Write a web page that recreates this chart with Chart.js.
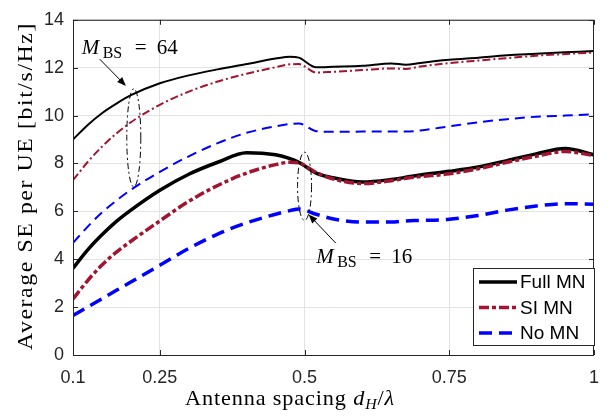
<!DOCTYPE html>
<html>
<head>
<meta charset="utf-8">
<script src="https://cdn.jsdelivr.net/npm/chart.js@4.4.1/dist/chart.umd.min.js"></script>
<style>
  body { margin: 0; background: #fff; }
  #wrap { width: 611px; height: 418px; position: relative; }
</style>
</head>
<body>
<div id="wrap"><canvas id="chart"></canvas></div>
<script>
// antenna spacing d_H / lambda
const xValues = [0.1, 0.125, 0.15, 0.175, 0.2, 0.25, 0.3, 0.35, 0.4, 0.45, 0.475, 0.49, 0.52, 0.55, 0.6, 0.65, 0.675, 0.7, 0.75, 0.8, 0.85, 0.9, 0.95, 1.0];

// M_BS = 64
const fullMN64 = [9.0, 9.6, 10.1, 10.5, 10.85, 11.35, 11.68, 11.93, 12.15, 12.38, 12.46, 12.42, 12.02, 12.04, 12.08, 12.18, 12.12, 12.2, 12.33, 12.42, 12.52, 12.58, 12.64, 12.7];
const siMN64   = [7.3, 8.05, 8.7, 9.25, 9.72, 10.45, 11.0, 11.42, 11.75, 12.02, 12.14, 12.15, 11.8, 11.83, 11.9, 11.97, 11.95, 12.05, 12.19, 12.3, 12.4, 12.5, 12.57, 12.63];
const noMN64   = [4.68, 5.35, 5.95, 6.45, 6.9, 7.65, 8.3, 8.85, 9.28, 9.55, 9.65, 9.67, 9.35, 9.32, 9.33, 9.33, 9.33, 9.38, 9.55, 9.72, 9.85, 9.95, 10.0, 10.05];

// M_BS = 16
const fullMN16 = [3.62, 4.38, 5.02, 5.58, 6.05, 6.88, 7.55, 8.05, 8.45, 8.36, 8.2, 8.05, 7.6, 7.4, 7.23, 7.33, 7.42, 7.52, 7.67, 7.85, 8.12, 8.4, 8.62, 8.36];
const siMN16   = [2.34, 3.1, 3.76, 4.3, 4.75, 5.6, 6.42, 7.08, 7.6, 7.95, 8.05, 8.02, 7.62, 7.35, 7.16, 7.28, 7.38, 7.45, 7.57, 7.78, 8.05, 8.3, 8.5, 8.33];
const noMN16   = [1.65, 2.0, 2.35, 2.7, 3.05, 3.75, 4.45, 5.05, 5.52, 5.88, 6.03, 6.1, 5.88, 5.68, 5.55, 5.55, 5.6, 5.62, 5.67, 5.83, 6.05, 6.22, 6.32, 6.3];

const xTicks = [0.1, 0.25, 0.5, 0.75, 1];
const yTicks = [0, 2, 4, 6, 8, 10, 12, 14];
const legendLabels = ["Full MN", "SI MN", "No MN"];

const BLACK = "#000000";
const RED = "#a2142f";
const BLUE = "#0000ff";
const AXIS = "#262626";
const SERIF = "'Liberation Serif', 'Times New Roman', serif";

const pts = (arr) => xValues.map((x, i) => ({ x: x, y: arr[i] }));

const line = (data, color, width, dash) => ({
    data: pts(data),
    borderColor: color,
    borderWidth: width,
    borderDash: dash,
    pointRadius: 0,
    fill: false,
    cubicInterpolationMode: "monotone",
    borderCapStyle: "butt"
});

// draw text pieces left to right, slightly stretched, letter spacing fills the rest of the target width
const drawRuns = (ctx, runs, x, y, target, sx) => {
    let w = 0, n = 0;
    ctx.letterSpacing = "0px";
    runs.forEach(r => {
        ctx.font = r.font;
        r.w = ctx.measureText(r.t).width;
        w += r.w;
        n += r.t.length;
    });
    const ls = (target / sx - w) / n;
    ctx.save();
    ctx.translate(x, y);
    ctx.scale(sx, 1);
    let cx = 0;
    runs.forEach(r => {
        ctx.font = r.font;
        ctx.letterSpacing = ls + "px";
        ctx.fillText(r.t, cx, r.dy || 0);
        cx += r.w + ls * r.t.length;
    });
    ctx.restore();
    ctx.letterSpacing = "0px";
};

// M_BS = n, pieces placed at the offsets seen in the picture
const drawMbs = (ctx, n, x, y) => {
    ctx.font = "italic 21px " + SERIF;
    ctx.fillText("M", x, y);
    ctx.font = "16px " + SERIF;
    ctx.fillText("BS", x + 21, y + 4);
    ctx.font = "21px " + SERIF;
    ctx.fillText("=", x + 53, y);
    ctx.fillText(n, x + 75, y);
};

const arrow = (ctx, x1, y1, x2, y2) => {
    const a = Math.atan2(y2 - y1, x2 - x1);
    ctx.beginPath();
    ctx.moveTo(x1, y1);
    ctx.lineTo(x2 - 6 * Math.cos(a), y2 - 6 * Math.sin(a));
    ctx.stroke();
    ctx.beginPath();
    ctx.moveTo(x2, y2);
    ctx.lineTo(x2 - 9 * Math.cos(a) + 3.5 * Math.sin(a), y2 - 9 * Math.sin(a) - 3.5 * Math.cos(a));
    ctx.lineTo(x2 - 9 * Math.cos(a) - 3.5 * Math.sin(a), y2 - 9 * Math.sin(a) + 3.5 * Math.cos(a));
    ctx.closePath();
    ctx.fill();
};

const decor = {
    id: "decor",
    afterDatasetsDraw(chart) {
        const ctx = chart.ctx;
        const xs = chart.scales.x, ys = chart.scales.y;
        const a = chart.chartArea;
        ctx.save();

        // ellipses around the curve groups
        ctx.strokeStyle = BLACK;
        ctx.lineWidth = 1;
        ctx.setLineDash([6, 3, 2, 3]);
        [[0.205, 11.12, 7.02], [0.5, 8.47, 5.62]].forEach(e => {
            const cx = xs.getPixelForValue(e[0]);
            const yt = ys.getPixelForValue(e[1]);
            const yb = ys.getPixelForValue(e[2]);
            ctx.beginPath();
            ctx.ellipse(cx, (yt + yb) / 2, 7, (yb - yt) / 2, 0, 0, Math.PI * 2);
            ctx.stroke();
        });
        ctx.setLineDash([]);

        // arrows
        ctx.fillStyle = BLACK;
        arrow(ctx, xs.getPixelForValue(0.146), ys.getPixelForValue(12.36), xs.getPixelForValue(0.1915), ys.getPixelForValue(11.24));
        arrow(ctx, xs.getPixelForValue(0.554), ys.getPixelForValue(4.67), xs.getPixelForValue(0.507), ys.getPixelForValue(5.87));

        // labels
        ctx.textAlign = "left";
        ctx.textBaseline = "alphabetic";
        drawMbs(ctx, "64", xs.getPixelForValue(0.115), ys.getPixelForValue(12.56));
        drawMbs(ctx, "16", xs.getPixelForValue(0.52), ys.getPixelForValue(3.84));

        // box and inward ticks
        ctx.strokeStyle = AXIS;
        ctx.lineWidth = 1;
        ctx.strokeRect(a.left + 0.5, a.top + 0.5, a.right - a.left - 1, a.bottom - a.top);
        ctx.beginPath();
        xTicks.forEach(v => {
            const px = Math.round(xs.getPixelForValue(v)) + 0.5;
            ctx.moveTo(px, a.bottom); ctx.lineTo(px, a.bottom - 5);
            ctx.moveTo(px, a.top); ctx.lineTo(px, a.top + 5);
        });
        yTicks.forEach(v => {
            const py = Math.round(ys.getPixelForValue(v)) + 0.5;
            ctx.moveTo(a.left, py); ctx.lineTo(a.left + 5, py);
            ctx.moveTo(a.right, py); ctx.lineTo(a.right - 5, py);
        });
        ctx.stroke();

        // legend
        const lx = 473, ly = 268, lw = 121, lh = 77;
        ctx.fillStyle = "#ffffff";
        ctx.fillRect(lx, ly, lw, lh);
        ctx.strokeStyle = AXIS;
        ctx.strokeRect(lx + 0.5, ly + 0.5, lw, lh);
        const styles = [[BLACK, []], [RED, [10, 3, 4, 3]], [BLUE, [13, 7]]];
        legendLabels.forEach((lab, i) => {
            const yy = 282 + i * 25.5;
            ctx.strokeStyle = styles[i][0];
            ctx.lineWidth = 3.5;
            ctx.setLineDash(styles[i][1]);
            ctx.beginPath();
            ctx.moveTo(479, yy); ctx.lineTo(517, yy);
            ctx.stroke();
            ctx.setLineDash([]);
            ctx.fillStyle = BLACK;
            ctx.font = "19px 'Liberation Sans'";
            ctx.textBaseline = "middle";
            ctx.fillText(lab, 520, yy + 1);
        });

        // axis titles
        ctx.fillStyle = BLACK;
        ctx.textBaseline = "alphabetic";
        drawRuns(ctx, [
            { t: "Antenna spacing ", font: "21px " + SERIF },
            { t: "d", font: "italic 21px " + SERIF },
            { t: "H", font: "italic 15px " + SERIF, dy: 4 },
            { t: "/", font: "21px " + SERIF },
            { t: "\u03bb", font: "italic 21px " + SERIF }
        ], 185, 405, 210, 1.06);

        ctx.save();
        ctx.translate(32, 350);
        ctx.rotate(-Math.PI / 2);
        drawRuns(ctx, [{ t: "Average SE per UE [bit/s/Hz]", font: "22px " + SERIF }], 0, 0, 328, 1.08);
        ctx.restore();

        ctx.restore();
    }
};

new Chart(document.getElementById("chart"), {
    type: "line",
    data: {
        datasets: [
            line(noMN64, BLUE, 2, [10, 6]),
            line(siMN64, RED, 2, [8, 3, 2, 3]),
            line(fullMN64, BLACK, 2, []),
            line(noMN16, BLUE, 3.5, [13, 7]),
            line(siMN16, RED, 3.5, [10, 3, 4, 3]),
            line(fullMN16, BLACK, 3.5, [])
        ]
    },
    options: {
        responsive: true,
        maintainAspectRatio: false,
        animation: false,
        events: [],
        layout: { padding: { top: 16, right: 7, left: 0, bottom: 0 } },
        plugins: { legend: { display: false }, tooltip: { enabled: false } },
        scales: {
            x: {
                type: "linear",
                min: 0.1,
                max: 1,
                afterBuildTicks: (s) => { s.ticks = xTicks.map(v => ({ value: v })); },
                afterFit: (s) => { s.height = 63; },
                grid: { color: "#e3e3e3", drawTicks: false },
                border: { display: false },
                ticks: {
                    padding: 12,
                    color: AXIS,
                    font: { family: "'Liberation Sans'", size: 18 },
                    maxRotation: 0,
                    callback: (v) => String(v)
                }
            },
            y: {
                min: 0,
                max: 14,
                afterBuildTicks: (s) => { s.ticks = yTicks.map(v => ({ value: v })); },
                afterFit: (s) => { s.width = 73; },
                grid: { color: "#e3e3e3", drawTicks: false },
                border: { display: false },
                ticks: {
                    padding: 9,
                    color: AXIS,
                    font: { family: "'Liberation Sans'", size: 18 }
                }
            }
        }
    },
    plugins: [decor]
});
</script>
</body>
</html>
